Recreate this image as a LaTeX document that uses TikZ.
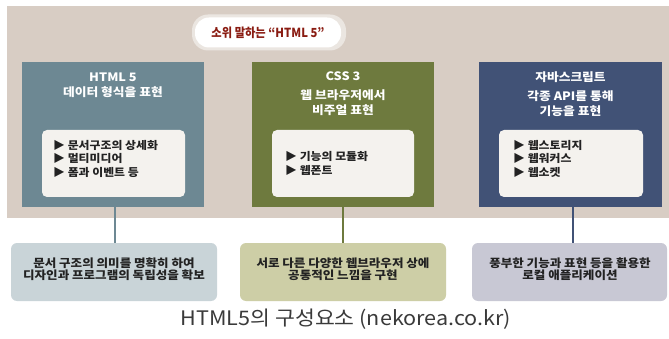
\documentclass[tikz,border=0pt]{standalone}
\usepackage{fontspec}
\newfontfamily\kr{Noto Sans CJK KR}
\newfontfamily\krw[FakeStretch=1.1]{Noto Sans CJK KR}
\newfontfamily\krn[FakeStretch=0.9]{Noto Sans CJK KR}
\newfontfamily\krc[FakeStretch=1.08]{Noto Sans CJK KR}
\definecolor{panel}{HTML}{D8CDC4}
\definecolor{cA}{HTML}{6D8893}
\definecolor{cB}{HTML}{6E7A3E}
\definecolor{cC}{HTML}{415276}
\definecolor{lA}{HTML}{C9D4D8}
\definecolor{lB}{HTML}{CDCEA6}
\definecolor{lC}{HTML}{C8C8D4}
\definecolor{inner}{HTML}{F4F2EE}
\definecolor{titlered}{HTML}{8A1C12}
\definecolor{txt}{HTML}{222222}
\definecolor{cap}{HTML}{3A3A3A}
\tikzset{
  bigbox/.style={draw=none,inner sep=0pt,outer sep=0pt},
  innerbox/.style={draw=none,fill=inner,rounded corners=5pt,inner sep=0pt,outer sep=0pt,minimum height=67pt},
  lowbox/.style={draw=none,rounded corners=6pt,inner sep=0pt,outer sep=0pt,minimum height=58pt},
  hdr/.style={text=white,inner sep=0pt,align=center,font=\krw\bfseries\fontsize{11.6}{15}\selectfont},
  bul/.style={text=txt,inner sep=0pt,align=left,anchor=west,font=\krw\bfseries\fontsize{10.8}{13.5}\selectfont},
  lowtxt/.style={text=txt,inner sep=0pt,align=center,font=\krw\bfseries\fontsize{11.4}{12.2}\selectfont},
  conn/.style={line width=2pt}
}
\begin{document}
\begin{tikzpicture}[x=1pt,y=-1pt]
\useasboundingbox (0,0) rectangle (669,339);
\fill[white] (0,0) rectangle (669,339);
% background panel
\node[bigbox,fill=panel,anchor=north west,minimum width=662pt,minimum height=212pt] (panel) at (7,6) {};
% title pill
\node[draw=none,fill=white,opacity=0.5,rounded corners=16pt,minimum width=154pt,minimum height=36pt,inner sep=0pt] (pillglow) at (269,32.5) {};
\node[draw=none,fill=white,rounded corners=14pt,minimum width=146pt,minimum height=30pt,inner sep=0pt,text=titlered,font=\krn\bfseries\fontsize{12.5}{14}\selectfont] (pill) at (268,32.5) {소위 말하는 “HTML 5”};
% top boxes
\node[bigbox,fill=cA,anchor=north west,minimum width=182pt,minimum height=145pt] (h1) at (22,62) {};
\node[bigbox,fill=cB,anchor=north west,minimum width=182pt,minimum height=145pt] (h2) at (252,62) {};
\node[bigbox,fill=cC,anchor=north west,minimum width=183pt,minimum height=145pt] (h3) at (479,62) {};
% headers
\node[hdr] (t1) at (113,85.5) {HTML 5\\데이터 형식을 표현};
\node[hdr] (t2) at (343,94) {CSS 3\\[4pt]웹 브라우저에서\\비주얼 표현};
\node[hdr] (t3) at (570.5,94.5) {자바스크립트\\[4pt]각종 API를 통해\\기능을 표현};
% inner boxes
\node[innerbox,anchor=north west,minimum width=143pt] (i1) at (42,130) {};
\node[innerbox,anchor=north west,minimum width=142pt] (i2) at (272,130) {};
\node[innerbox,anchor=north west,minimum width=144pt] (i3) at (499,130) {};
\node[bul] (b1) at (53,158.5) {▶ 문서구조의 상세화\\▶ 멀티미디어\\▶ 폼과 이벤트 등};
\node[bul] (b2) at (285,163.5) {▶ 기능의 모듈화\\▶ 웹폰트};
\node[bul] (b3) at (513,158.5) {▶ 웹스토리지\\▶ 웹워커스\\▶ 웹소켓};
% lower boxes
\node[lowbox,fill=lA,anchor=north west,minimum width=206pt] (l1) at (11,243) {};
\node[lowbox,fill=lB,anchor=north west,minimum width=206pt] (l2) at (240,243) {};
\node[lowbox,fill=lC,anchor=north west,minimum width=195pt] (l3) at (472,243) {};
\node[lowtxt] (lt1) at (114,269) {문서 구조의 의미를 명확히 하여\\디자인과 프로그램의 독립성을 확보};
\node[lowtxt] (lt2) at (343,269.5) {서로 다른 다양한 웹브라우저 상에\\공통적인 느낌을 구현};
\node[lowtxt] (lt3) at (570,269) {풍부한 기능과 표현 등을 활용한\\로컬 애플리케이션};
% connectors
\draw[conn,draw=cA] ([xshift=2pt]h1.south) -- ([xshift=2pt]h1.south |- l1.north);
\draw[conn,draw=cB] (h2.south) -- (h2.south |- l2.north);
\draw[conn,draw=cC] ([xshift=2pt]h3.south) -- ([xshift=2pt]h3.south |- l3.north);
% caption
\node[inner sep=0pt,text=cap,font=\krc\fontsize{20}{22}\selectfont] (caption) at (346,319) {HTML5의 구성요소 (nekorea.co.kr)};
\end{tikzpicture}
\end{document}
